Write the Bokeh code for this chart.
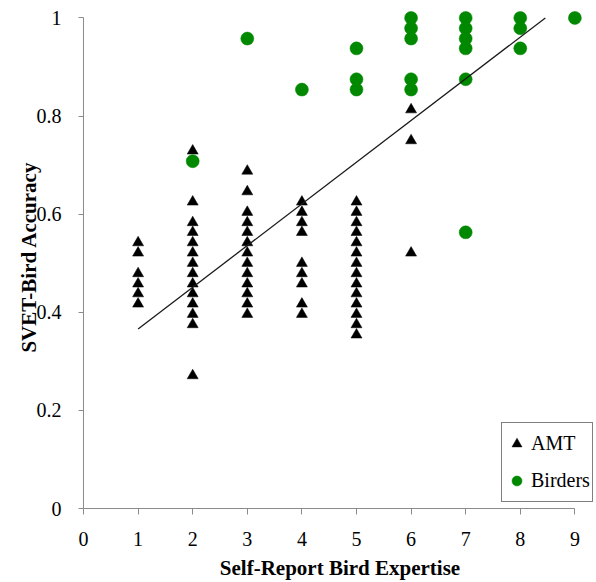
from bokeh.plotting import figure
from bokeh.models import Range1d, FixedTicker, Legend, LegendItem
from bokeh.embed import file_html
from bokeh.resources import INLINE

# Self-reported bird expertise vs. SVET-Bird accuracy
amt_x = [1] * 6 + [2] * 14 + [3] * 13 + [4] * 9 + [5] * 14 + [6] * 3
amt_y = [
    0.542, 0.521, 0.479, 0.458, 0.438, 0.417,
    0.729, 0.625, 0.583, 0.563, 0.542, 0.521, 0.500, 0.479, 0.458, 0.438, 0.417, 0.396, 0.375, 0.271,
    0.688, 0.646, 0.604, 0.583, 0.563, 0.542, 0.521, 0.500, 0.479, 0.458, 0.438, 0.417, 0.396,
    0.625, 0.604, 0.583, 0.563, 0.500, 0.479, 0.458, 0.417, 0.396,
    0.625, 0.604, 0.583, 0.563, 0.542, 0.521, 0.500, 0.479, 0.458, 0.438, 0.417, 0.396, 0.375, 0.354,
    0.813, 0.750, 0.521,
]

birder_x = [2, 3, 4, 5, 5, 5, 6, 6, 6, 6, 6, 7, 7, 7, 7, 7, 7, 8, 8, 8, 9]
birder_y = [0.708, 0.958, 0.854, 0.938, 0.875, 0.854,
            1.000, 0.979, 0.958, 0.875, 0.854,
            1.000, 0.979, 0.958, 0.938, 0.875, 0.563,
            1.000, 0.979, 0.938, 1.000]

# linear trend line, clipped at the top of the axis
trend_slope = 0.085
trend_intercept = 0.281
trend_x0 = 1.0

x_ticks = list(range(0, 10))
y_ticks = [0, 0.2, 0.4, 0.6, 0.8, 1]

FONT = "Liberation Serif"
AXIS_GREY = "#8c8c8c"
GREEN = "#008800"

p = figure(width=596, height=582, output_backend="svg", toolbar_location=None,
           x_range=Range1d(0, 9.396), y_range=Range1d(0, 1.0254),
           min_border_left=83, min_border_right=0, min_border_top=5, min_border_bottom=73)
p.outline_line_color = None
p.xgrid.visible = False
p.ygrid.visible = False

for ax, ticks, bounds in ((p.xaxis[0], x_ticks, (0, 9)), (p.yaxis[0], y_ticks, (0, 1))):
    ax.ticker = FixedTicker(ticks=ticks)
    ax.bounds = bounds
    ax.axis_line_color = AXIS_GREY
    ax.major_tick_line_color = AXIS_GREY
    ax.major_tick_in = 0
    ax.major_tick_out = 6
    ax.minor_tick_line_color = None
    ax.major_label_text_font = FONT
    ax.major_label_text_font_size = "20px"
    ax.major_label_text_color = "black"
    ax.axis_label_text_font = FONT
    ax.axis_label_text_font_size = "21px"
    ax.axis_label_text_font_style = "bold"
    ax.axis_label_text_color = "black"

p.yaxis[0].major_tick_out = 5
p.yaxis[0].major_label_overrides = {0: "0", 1: "1"}
p.xaxis.axis_label = "Self-Report Bird Expertise"
p.yaxis.axis_label = "SVET-Bird Accuracy"
p.xaxis.major_label_standoff = 17
p.xaxis.axis_label_standoff = 7
p.yaxis.major_label_standoff = 17
p.yaxis.axis_label_standoff = -7

amt = p.scatter(amt_x, amt_y, marker="triangle", size=11,
                fill_color="black", line_color="black", line_width=0.5)
birders = p.scatter(birder_x, birder_y, marker="circle", size=13,
                    fill_color=GREEN, line_color=GREEN, line_width=0.5)

trend_x1 = (1.0 - trend_intercept) / trend_slope
tx = [trend_x0, trend_x1]
ty = [trend_intercept + trend_slope * v for v in tx]
p.line(tx, ty, line_color="#1a1a1a", line_width=1.3)

legend = Legend(items=[LegendItem(label="AMT", renderers=[amt]),
                       LegendItem(label="Birders", renderers=[birders])],
                location=(418, 6))
legend.label_text_font = FONT
legend.label_text_font_size = "20px"
legend.label_text_color = "black"
legend.glyph_width = 25
legend.glyph_height = 25
legend.label_height = 37
legend.label_standoff = 2
legend.spacing = 0
legend.padding = 2
legend.margin = 0
legend.border_line_color = "black"
legend.border_line_width = 1
legend.background_fill_alpha = 1
p.add_layout(legend, "center")

open("out.html", "w").write(file_html(p, INLINE))
